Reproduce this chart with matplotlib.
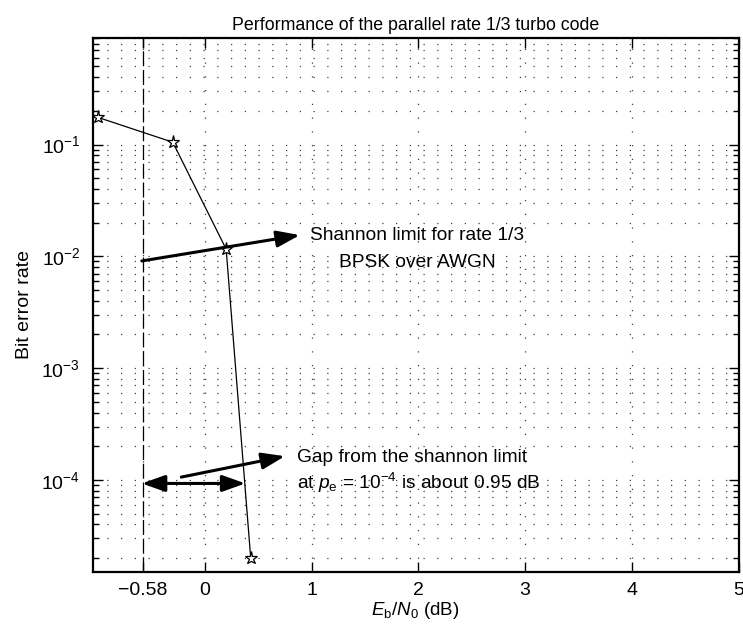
import matplotlib
matplotlib.use("Agg")
import matplotlib.pyplot as plt
from matplotlib.ticker import LogLocator, NullFormatter

plt.rcParams['font.family'] = ['Liberation Sans', 'DejaVu Sans']
plt.rcParams['mathtext.fontset'] = 'custom'
plt.rcParams['mathtext.rm'] = 'Liberation Sans'
plt.rcParams['mathtext.it'] = 'Liberation Sans:italic'
plt.rcParams['mathtext.bf'] = 'Liberation Sans:bold'

# data
ebn0_db = [-1.0, -0.3, 0.2, 0.43]
ber = [0.175, 0.105, 0.0116, 2.0e-5]
shannon_limit = -0.58
xtick_vals = [-0.58, 0, 1, 2, 3, 4, 5]
xtick_labels = ['\u22120.58', '0', '1', '2', '3', '4', '5']

fig = plt.figure(figsize=(7.43, 6.32), dpi=100)
ax = fig.add_axes([0.1248, 0.0949, 0.8692, 0.8451])

ax.semilogy(ebn0_db, ber, color='black', lw=0.9, marker='*', markersize=9.5,
            markerfacecolor='white', markeredgecolor='black', markeredgewidth=0.9, zorder=3)
ax.axvline(shannon_limit, color='black', lw=0.9, ls=(0, (12, 3)), zorder=2)

ax.set_xlim(-1.05, 5)
ax.set_ylim(1.5e-5, 0.9)
ax.set_xticks(xtick_vals)
ax.set_xticklabels(xtick_labels)
ax.yaxis.set_major_locator(LogLocator(base=10, numticks=10))
ax.yaxis.set_minor_locator(LogLocator(base=10, subs=range(2, 10), numticks=20))
ax.yaxis.set_minor_formatter(NullFormatter())

grid_ls = (0, (1, 10))
ax.grid(True, which='major', axis='x', color='0.25', ls=grid_ls, lw=0.9)
ax.grid(True, which='both', axis='y', color='0.25', ls=grid_ls, lw=0.9)
ax.tick_params(which='both', direction='in', top=True, right=True, labelsize=14, width=1)
ax.tick_params(which='major', length=7)
ax.tick_params(which='minor', length=4)
ax.tick_params(axis='x', pad=7)
ax.tick_params(axis='y', pad=9)
for s in ax.spines.values():
    s.set_linewidth(1.6)

ax.set_title('Performance of the parallel rate 1/3 turbo code', fontsize=12.8, pad=6)
ax.set_xlabel(r'$E_\mathrm{b}/N_0$ (dB)', fontsize=13.5, labelpad=1)
ax.set_ylabel('Bit error rate', fontsize=14, labelpad=6)

arrow_kw = dict(arrowstyle='-|>,head_length=1.4,head_width=0.5', color='black', lw=2.2,
                shrinkA=0, shrinkB=0)
ax.annotate('', xy=(0.89, 0.0155), xytext=(-0.59, 0.0091), arrowprops=arrow_kw)
ax.text(1.99, 0.0155, 'Shannon limit for rate 1/3', fontsize=13.8, ha='center', va='center')
ax.text(1.99, 0.0089, 'BPSK over AWGN', fontsize=13.8, ha='center', va='center')
ax.annotate('', xy=(0.75, 1.63e-4), xytext=(-0.22, 1.06e-4), arrowprops=arrow_kw)
ax.annotate('', xy=(0.38, 0.93e-4), xytext=(-0.59, 0.93e-4),
            arrowprops=dict(arrowstyle='<|-|>,head_length=1.4,head_width=0.5', color='black',
                            lw=2.2, shrinkA=0, shrinkB=0))
ax.text(0.86, 1.6e-4, 'Gap from the shannon limit', fontsize=13.8, ha='left', va='center')
ax.text(0.86, 0.93e-4, r'at $p_\mathrm{e}$ = 10$^{-4}$ is about 0.95 dB', fontsize=13.8,
        ha='left', va='center')

fig.savefig('out.png', dpi=100)
